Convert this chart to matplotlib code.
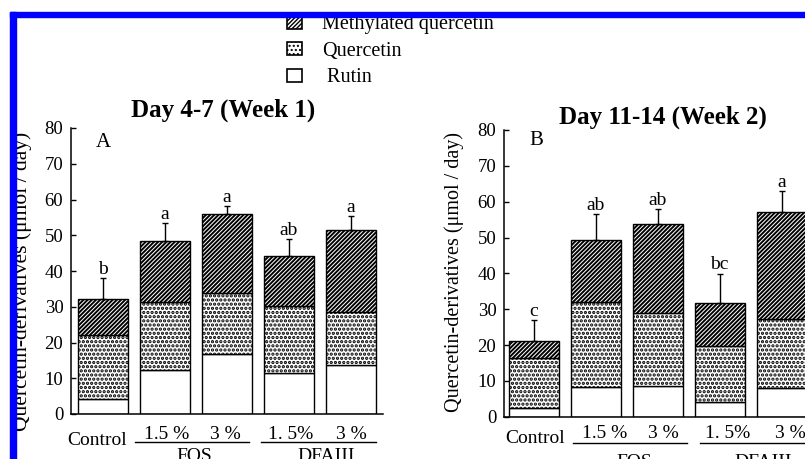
import numpy as np
import matplotlib
matplotlib.use("Agg")
import matplotlib.pyplot as plt
from matplotlib.patches import Patch, Rectangle

plt.rcParams['font.family'] = ['Liberation Serif', 'DejaVu Serif']
plt.rcParams['hatch.color'] = 'black'

W, H = 805, 459

# tratamientos (mismo orden en las dos semanas)
tratamientos = ["Control", "FOS 1.5 %", "FOS 3 %", "DFAIII 1.5%", "DFAIII 3 %"]
etiquetas_dosis = ["1.5 %", "3 %", "1. 5%", "3 %"]

# Semana 1 (dia 4-7), umol/dia
rutin_s1 = [4.1, 12.3, 16.7, 11.6, 13.6]
quercetin_s1 = [18.0, 18.9, 17.2, 18.5, 15.0]
metil_s1 = [10.2, 17.3, 22.1, 14.0, 23.0]
error_s1 = [5.8, 4.8, 2.2, 4.9, 3.8]
letras_s1 = ["b", "a", "a", "ab", "a"]

# Semana 2 (dia 11-14)
rutin_s2 = [2.5, 8.4, 8.6, 4.2, 7.9]
quercetin_s2 = [13.8, 23.5, 20.2, 15.6, 19.4]
metil_s2 = [4.7, 17.3, 25.0, 12.0, 29.9]
error_s2 = [6.0, 7.3, 4.2, 8.1, 5.8]
letras_s2 = ["c", "ab", "ab", "bc", "a"]

ylabel = "Quercetin-derivatives (\u03bcmol / day)"

# tramas: (hatch, grosor de linea)
trama_met = ('////////', 1.4)
trama_que = ('....', 1.6)


def barra(ax, x, alto, ancho, base, trama):
    hatch, lw_hatch = trama
    with plt.rc_context({'hatch.linewidth': lw_hatch}):
        cont = ax.bar(x, alto, ancho, bottom=base, color='white',
                      edgecolor='black', linewidth=1.0, hatch=hatch)
    for p in cont:
        if hasattr(p, 'set_hatch_linewidth'):
            p.set_hatch_linewidth(lw_hatch)
    return cont


def dibujar_panel(ax, rutin, quer, metil, err, letras):
    x = np.arange(len(rutin))
    ancho = 0.806
    barra(ax, x, rutin, ancho, 0, (None, 1.0))
    barra(ax, x, quer, ancho, rutin, trama_que)
    base = np.array(rutin) + np.array(quer)
    barra(ax, x, metil, ancho, base, trama_met)
    total = base + np.array(metil)
    # solo la barra de error superior
    ax.errorbar(x, total, yerr=[np.zeros(len(x)), err], fmt='none',
                ecolor='black', elinewidth=1.0, capsize=2.5, capthick=1.0)
    for xi, t, e, l in zip(x, total, err, letras):
        ax.text(xi, t + e + 1.2, l, ha='center', va='baseline', fontsize=14)

    ax.set_ylim(0, 80)
    ax.set_yticks(range(0, 81, 10))
    ax.set_xticks([])
    ax.tick_params(axis='y', direction='in', length=3.6, width=1.0,
                   labelsize=13.5, pad=5.5)
    for s in ['top', 'right']:
        ax.spines[s].set_visible(False)
    for s in ['left', 'bottom']:
        ax.spines[s].set_linewidth(1.1)
    ax.patch.set_alpha(0)


def etiquetas_x(ax, x_ctrl, y_ctrl, x_dosis, y_dosis, lineas, y_linea, x_grupo, y_grupo):
    ax.text(x_ctrl, y_ctrl, tratamientos[0], ha='center', va='center',
            fontsize=14, clip_on=False)
    for xd, t in zip(x_dosis, etiquetas_dosis):
        ax.text(xd, y_dosis, t, ha='center', va='center', fontsize=14,
                clip_on=False)
    for x0, x1 in lineas:
        ax.plot([x0, x1], [y_linea, y_linea], color='black', lw=1.0,
                clip_on=False)
    for xg, g in zip(x_grupo, ["FOS", "DFAIII"]):
        ax.text(xg, y_grupo, g, ha='center', va='center', fontsize=14,
                clip_on=False)


fig = plt.figure(figsize=(W / 100, H / 100), dpi=100)

# panel A
ax1 = fig.add_axes([71 / W, 1 - 414 / H, 312 / W, 286 / H])
dibujar_panel(ax1, rutin_s1, quercetin_s1, metil_s1, error_s1, letras_s1)
ax1.set_xlim(-0.516, 4.516)
ax1.text(0.0, 76, "A", ha='center', va='center', fontsize=15)
etiquetas_x(ax1, -0.10, -7.3, [1.02, 1.97, 3.02, 4.0], -5.6,
            [(0.52, 2.35), (2.55, 4.4)], -7.8, [1.48, 3.6], -11.9)

# panel B
ax2 = fig.add_axes([504 / W, 1 - 416.7 / H, 310 / W, 286.7 / H])
dibujar_panel(ax2, rutin_s2, quercetin_s2, metil_s2, error_s2, letras_s2)
ax2.set_xlim(-0.476, 4.52)
ax2.text(0.05, 77, "B", ha='center', va='center', fontsize=15)
etiquetas_x(ax2, 0.02, -6.2, [1.14, 2.09, 3.12, 4.14], -4.6,
            [(0.64, 2.47), (2.69, 4.6)], -7.3, [1.62, 3.7], -12.8)

# titulos y ejes y
fig.text(223 / W, 1 - 110 / H, "Day 4-7 (Week 1)", ha='center', va='center',
         fontsize=18, fontweight='bold')
fig.text(663 / W, 1 - 117 / H, "Day 11-14 (Week 2)", ha='center', va='center',
         fontsize=18, fontweight='bold')
fig.text(22 / W, 1 - 281.5 / H, ylabel, rotation=90, ha='center', va='center',
         fontsize=15.5)
fig.text(454 / W, 1 - 272.5 / H, ylabel, rotation=90, ha='center', va='center',
         fontsize=14.5)

# leyenda
with plt.rc_context({'hatch.linewidth': trama_met[1]}):
    h_met = Patch(facecolor='white', edgecolor='black', hatch=trama_met[0], lw=1.2)
with plt.rc_context({'hatch.linewidth': trama_que[1]}):
    h_que = Patch(facecolor='white', edgecolor='black', hatch=trama_que[0], lw=1.2)
h_rut = Patch(facecolor='white', edgecolor='black', lw=1.2)
fig.legend([h_met, h_que, h_rut],
           ["Methylated quercetin", "Quercetin", " Rutin"],
           loc='upper left', bbox_to_anchor=(287 / W, 1 - 15 / H),
           frameon=False, fontsize=14.5, handlelength=0.75, handleheight=0.65,
           handletextpad=1.0, labelspacing=0.38, borderpad=0, borderaxespad=0)

# borde azul de la captura
azul = '#0000ff'
fig.add_artist(Rectangle((10 / W, 1 - 17 / H), 1, 5 / H, transform=fig.transFigure,
                         color=azul, zorder=20))
fig.add_artist(Rectangle((10 / W, 0), 5.5 / W, 1 - 12 / H, transform=fig.transFigure,
                         color=azul, zorder=20))

fig.savefig("out.png", dpi=100)
